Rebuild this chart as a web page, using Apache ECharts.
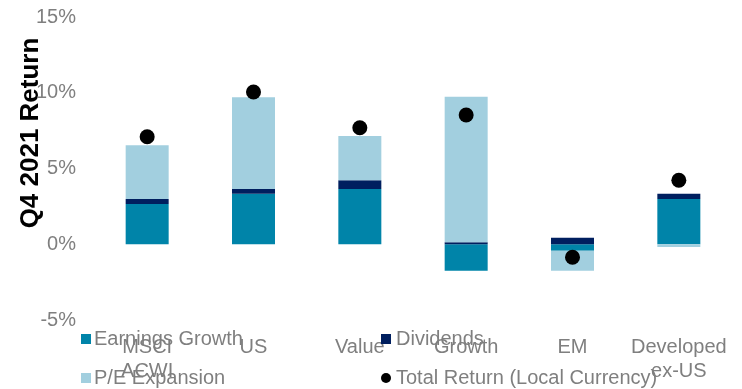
<!DOCTYPE html>
<html>
<head>
<meta charset="utf-8">
<script src="https://cdn.jsdelivr.net/npm/echarts@6/dist/echarts.min.js"></script>
<style>
  html, body { margin: 0; padding: 0; background: #fff; }
  #chart { width: 742px; height: 389px; }
</style>
</head>
<body>
<div id="chart"></div>
<script>
// Q4 2021 return decomposition by region / style (percent)
const categories = ['MSCI\nACWI', 'US', 'Value', 'Growth', 'EM', 'Developed\nex-US'];
const earningsGrowth = [2.66, 3.34, 3.65, -1.75, -0.43, 2.99];
const dividends      = [0.33, 0.31, 0.57, 0.13, 0.43, 0.35];
const peExpansion    = [3.54, 6.05, 2.93, 9.61, -1.32, -0.18];
const totalReturn    = [7.10, 10.05, 7.69, 8.53, -0.86, 4.22];
const yTicks = { min: -5, max: 15, interval: 5 };

const gray = '#7f7f7f';
const font = 'Liberation Sans, Arial, sans-serif';

// one legend block per entry, arranged as a 2 x 2 grid below the plot
function legendItem(name, icon, left, top, textShift) {
  return {
    left: left, top: top,
    itemWidth: 10, itemHeight: 10, itemGap: 0,
    textStyle: { color: gray, fontSize: 20, lineHeight: 20, fontFamily: font, padding: [0, 0, 0, textShift] },
    data: [{ name: name, icon: icon }]
  };
}

const chart = echarts.init(document.getElementById('chart'));
chart.setOption({
  animation: false,
  textStyle: { fontFamily: font },
  grid: { left: 94, right: 10, top: 17, bottom: 69, containLabel: false },
  xAxis: {
    type: 'category',
    data: categories,
    axisLine: { show: false },
    axisTick: { show: false },
    axisLabel: { color: gray, fontSize: 20, lineHeight: 24, margin: 15, interval: 0, fontFamily: font }
  },
  yAxis: {
    type: 'value',
    min: yTicks.min, max: yTicks.max, interval: yTicks.interval,
    axisLine: { show: false },
    axisTick: { show: false },
    splitLine: { show: false },
    axisLabel: { color: gray, fontSize: 20, margin: 18, fontFamily: font, formatter: v => v + '%' }
  },
  legend: [
    legendItem('Earnings Growth', 'rect', 76, 324, -2),
    legendItem('P/E Expansion', 'rect', 76, 363, -2),
    legendItem('Dividends', 'rect', 376, 324, 0),
    legendItem('Total Return (Local Currency)', 'circle', 376, 363, 0)
  ],
  graphic: [{
    type: 'text',
    x: 31, y: 133,
    rotation: Math.PI / 2,
    style: {
      text: 'Q4 2021 Return',
      fill: '#000',
      font: 'bold 26px Liberation Sans, Arial, sans-serif',
      align: 'center',
      verticalAlign: 'middle'
    }
  }],
  series: [
    { name: 'Earnings Growth', type: 'bar', stack: 'ret', barWidth: 43, data: earningsGrowth, itemStyle: { color: '#0084A9' } },
    { name: 'Dividends', type: 'bar', stack: 'ret', barWidth: 43, data: dividends, itemStyle: { color: '#001F5F' } },
    { name: 'P/E Expansion', type: 'bar', stack: 'ret', barWidth: 43, data: peExpansion, itemStyle: { color: '#A2CFDF' } },
    { name: 'Total Return (Local Currency)', type: 'scatter', symbol: 'circle', symbolSize: 15, z: 5, data: totalReturn, itemStyle: { color: '#000', opacity: 1 } }
  ]
});
</script>
</body>
</html>
